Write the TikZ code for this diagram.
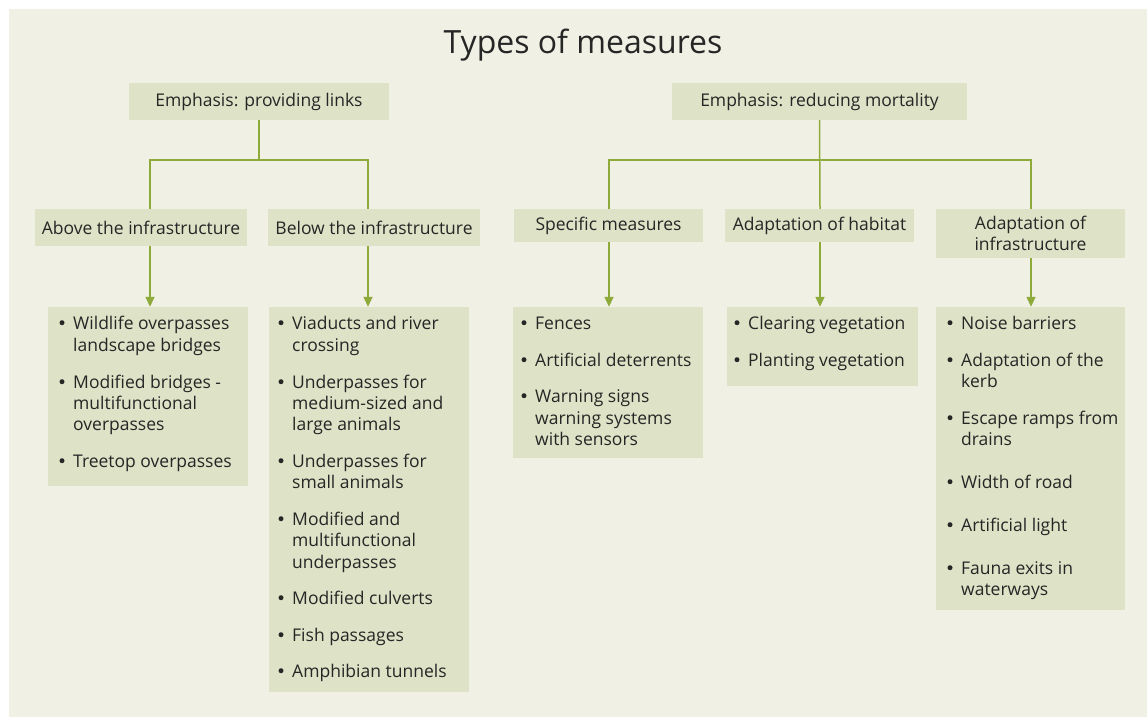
\documentclass[tikz,border=0pt]{standalone}
\usepackage{fontspec}
\setmainfont{Open Sans}
\usetikzlibrary{arrows.meta}
\definecolor{panel}{RGB}{240,241,228}
\definecolor{boxc}{RGB}{222,226,198}
\definecolor{linec}{RGB}{141,170,58}
\definecolor{txt}{RGB}{38,38,38}
\newcommand{\bitem}[4]{\node[bul] (#1b) at (#2,#3-6.3) {}; \node[itxt] (#1) at (#2+11,#3) {#4};}
\newcommand{\citem}[4]{\node[itxt] (#1) at (#2+11,#3) {#4};}
\tikzset{
  hdr/.style={fill=boxc, inner sep=0pt, text=txt, font=\fontsize{17.5}{21.7}\selectfont, align=center},
  lst/.style={fill=boxc, inner sep=0pt},
  bul/.style={circle, fill=txt, inner sep=0pt, minimum size=5pt},
  itxt/.style={anchor=base west, inner sep=0pt, text=txt, font=\fontsize{17.5}{21.7}\selectfont},
  conn/.style={draw=linec, line width=1.5pt},
  arr/.style={draw=linec, line width=1.5pt, -{Triangle[width=9pt,length=10pt,fill=linec]}}
}
\begin{document}
\begin{tikzpicture}[x=1pt,y=-1pt]
\useasboundingbox (0,0) rectangle (1147,718);
\fill[panel] (9,9) rectangle (1147,717);
\node[anchor=base, inner sep=0pt, text=txt, font=\fontsize{32}{38}\selectfont] (title) at (583,53) {Types of measures};
% header boxes
\node[hdr, minimum width=260pt, minimum height=37pt] (P) at (259,101.5) {Emphasis: providing links};
\node[hdr, minimum width=295pt, minimum height=37pt] (M) at (819.5,101.5) {Emphasis: reducing mortality};
\node[hdr, minimum width=212pt, minimum height=37pt] (A) at (141,227.5) {Above the infrastructure};
\node[hdr, minimum width=212pt, minimum height=37pt] (B) at (374,227.5) {Below the infrastructure};
\node[hdr, minimum width=189pt, minimum height=33pt] (S) at (608.5,225.5) {Specific measures};
\node[hdr, minimum width=189pt, minimum height=33pt] (H) at (819.5,225.5) {Adaptation of habitat};
\node[hdr, minimum width=189pt, minimum height=49pt] (I) at (1030.5,233.5) {Adaptation of\\infrastructure};
% list boxes
\node[lst, minimum width=200pt, minimum height=179pt] (LA) at (148,396.5) {};
\node[lst, minimum width=200pt, minimum height=385pt] (LB) at (369,499.5) {};
\node[lst, minimum width=190pt, minimum height=151pt] (LS) at (608,382.5) {};
\node[lst, minimum width=191pt, minimum height=79pt] (LH) at (822.5,346.5) {};
\node[lst, minimum width=189pt, minimum height=303pt] (LI) at (1030.5,458.5) {};
% x positions of connectors
\coordinate (xA) at (150,0);
\coordinate (xB) at (368,0);
\coordinate (xS) at (609,0);
\coordinate (xH) at (820,0);
\coordinate (xI) at (1031,0);
\coordinate (jY) at (0,160);
% tree connectors
\draw[conn] (P.south) -- (P.south |- jY);
\draw[conn] (A.north -| xA) |- (xB |- jY) -- (B.north -| xB);
\draw[conn] (M.south) -- (H.north -| xH);
\draw[conn] (S.north -| xS) |- (xI |- jY) -- (I.north -| xI);
% arrows
\draw[arr] (A.south -| xA) -- (LA.north -| xA);
\draw[arr] (B.south -| xB) -- (LB.north -| xB);
\draw[arr] (S.south -| xS) -- (LS.north -| xS);
\draw[arr] (H.south -| xH) -- (LH.north -| xH);
\draw[arr] (I.south -| xI) -- (LI.north -| xI);
% list A
\bitem{a1}{62}{329}{Wildlife overpasses}
\citem{a1c}{62}{351}{landscape bridges}
\bitem{a2}{62}{388}{Modified bridges -}
\citem{a2c}{62}{409}{multifunctional}
\citem{a2d}{62}{430}{overpasses}
\bitem{a3}{62}{467}{Treetop overpasses}
% list B
\bitem{b1}{281}{329}{Viaducts and river}
\citem{b1c}{281}{351}{crossing}
\bitem{b2}{281}{388}{Underpasses for}
\citem{b2c}{281}{409}{medium-sized and}
\citem{b2d}{281}{430}{large animals}
\bitem{b3}{281}{467}{Underpasses for}
\citem{b3c}{281}{488}{small animals}
\bitem{b4}{281}{525}{Modified and}
\citem{b4c}{281}{546}{multifunctional}
\citem{b4d}{281}{568}{underpasses}
\bitem{b5}{281}{604}{Modified culverts}
\bitem{b6}{281}{641}{Fish passages}
\bitem{b7}{281}{677}{Amphibian tunnels}
% list S
\bitem{s1}{524}{329}{Fences}
\bitem{s2}{524}{366}{Artificial deterrents}
\bitem{s3}{524}{402}{Warning signs}
\citem{s3c}{524}{424}{warning systems}
\citem{s3d}{524}{445}{with sensors}
% list H
\bitem{h1}{737}{329}{Clearing vegetation}
\bitem{h2}{737}{366}{Planting vegetation}
% list I
\bitem{i1}{950}{329}{Noise barriers}
\bitem{i2}{950}{366}{Adaptation of the}
\citem{i2c}{950}{387}{kerb}
\bitem{i3}{950}{424}{Escape ramps from}
\citem{i3c}{950}{445}{drains}
\bitem{i4}{950}{488}{Width of road}
\bitem{i5}{950}{531}{Artificial light}
\bitem{i6}{950}{574}{Fauna exits in}
\citem{i6c}{950}{595}{waterways}
\end{tikzpicture}
\end{document}
